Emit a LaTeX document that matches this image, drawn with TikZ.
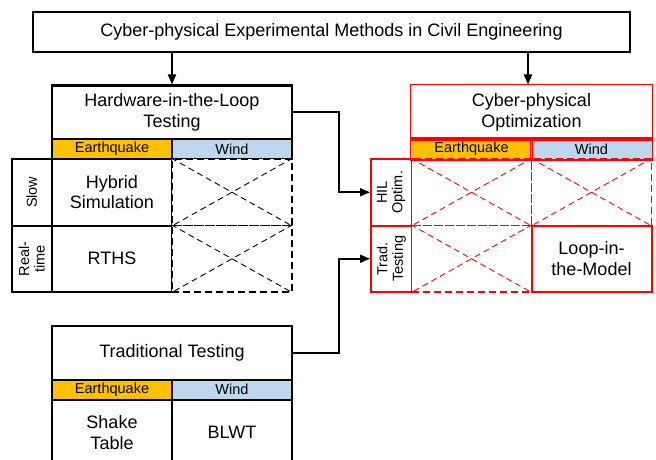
\documentclass[tikz,border=0pt]{standalone}
\usepackage{fontspec}
\setmainfont{Liberation Sans}
\usetikzlibrary{arrows.meta}
\definecolor{quake}{HTML}{FFC000}
\definecolor{windblue}{HTML}{BDD7EE}
\definecolor{optred}{HTML}{FF0000}
\newcommand\mainfs{\fontsize{18}{20.5}\selectfont}
\newcommand\tagfs{\fontsize{14.5}{15.5}\selectfont}

\begin{document}
\begin{tikzpicture}[x=1pt, y=-1pt,
  box/.style={draw, line width=2pt, align=center, inner sep=1pt, minimum width=240pt, minimum height=53.5pt, font=\mainfs},
  band/.style={draw, line width=2pt, minimum width=120pt, minimum height=20pt, inner sep=0pt, font=\tagfs, preaction={fill=#1}},
  side/.style={draw, line width=2pt, rotate=90, minimum width=66.5pt, minimum height=40.5pt, inner sep=0pt, align=center, font=\tagfs},
  cell/.style={draw, line width=2pt, minimum width=120pt, minimum height=66.5pt, inner sep=0pt, align=center, font=\mainfs},
  void/.style={cell, line width=1.8pt, preaction={fill=white}, dash pattern=on 7pt off 4pt},
  cross/.style={line width=0.9pt, dash pattern=on 6pt off 4pt},
  opt/.style={draw=optred},
  rim/.style={optred, line width=1.8pt},
  conn/.style={line width=1.8pt, -{Triangle[length=10pt, width=8pt]}}]
  \clip (0,0) rectangle (656,460);
  \node[box, minimum width=597pt, minimum height=40pt] (title) at (331.5,32) {Cyber-physical Experimental Methods in Civil Engineering};

  % hardware-in-the-loop testing
  \node[box] (hil) at (172,112.25) {Hardware-in-the-Loop\\Testing};
  \node[band=quake] (hilq) at (112,149.25) {Earthquake};
  \node[band=windblue] (hilw) at (232,149.25) {Wind};
  \node[side] (slow) at (31.75,192.25) {Slow};
  \node[side] (rt) at (31.75,258.75) {Real-\\time};
  \node[cell] (hyb) at (112,192.25) {Hybrid\\Simulation};
  \node[cell] (rths) at (112,258.75) {RTHS};
  \node[void] (hilw1) at (232,192.25) {};
  \node[void] (hilw2) at (232,258.75) {};
  \foreach \c in {hilw1, hilw2}
    \draw[cross] (\c.north west) -- (\c.south east) (\c.north east) -- (\c.south west);

  % cyber-physical optimization
  \node[box, draw=none] (cpo) at (531.5,112.25) {Cyber-physical\\Optimization};
  \node[band=quake, draw=none] (cpoq) at (471.5,149.25) {Earthquake};
  \node[band=windblue, draw=none] (cpow) at (591.5,149.25) {Wind};
  \node[side, opt] (hilopt) at (391.25,192.25) {HIL\\Optim.};
  \node[side, opt] (tradopt) at (391.25,258.75) {Trad.\\Testing};
  \node[void, opt] (cpo1) at (471.5,192.25) {};
  \node[void, opt] (cpo2) at (591.5,192.25) {};
  \node[void, opt] (cpo3) at (471.5,258.75) {};
  \node[cell, opt] (lim) at (591.5,258.75) {Loop-in-\\the-Model};
  \foreach \c in {cpo1, cpo2, cpo3}
    \draw[cross, optred] (\c.north west) -- (\c.south east) (\c.north east) -- (\c.south west);
  \foreach \c in {cpo, cpoq, cpow}
    \draw[rim] (\c.north west) rectangle (\c.south east);

  % traditional testing
  \node[box] (trad) at (172,352.75) {Traditional Testing};
  \node[band=quake] (tradq) at (112,389.5) {Earthquake};
  \node[band=windblue] (tradw) at (232,389.5) {Wind};
  \node[cell] (shake) at (112,432.75) {Shake\\Table};
  \node[cell] (blwt) at (232,432.75) {BLWT};

  % connectors
  \draw[conn] (title.south -| hil.north) -- (hil.north);
  \draw[conn] (title.south -| 528,0) -- (528,0 |- cpo.north);
  \draw[conn] (hil.east) -- ++(46,0) |- (hilopt.north);
  \draw[conn] (trad.east) -- ++(46,0) |- (tradopt.north);
\end{tikzpicture}
\end{document}
